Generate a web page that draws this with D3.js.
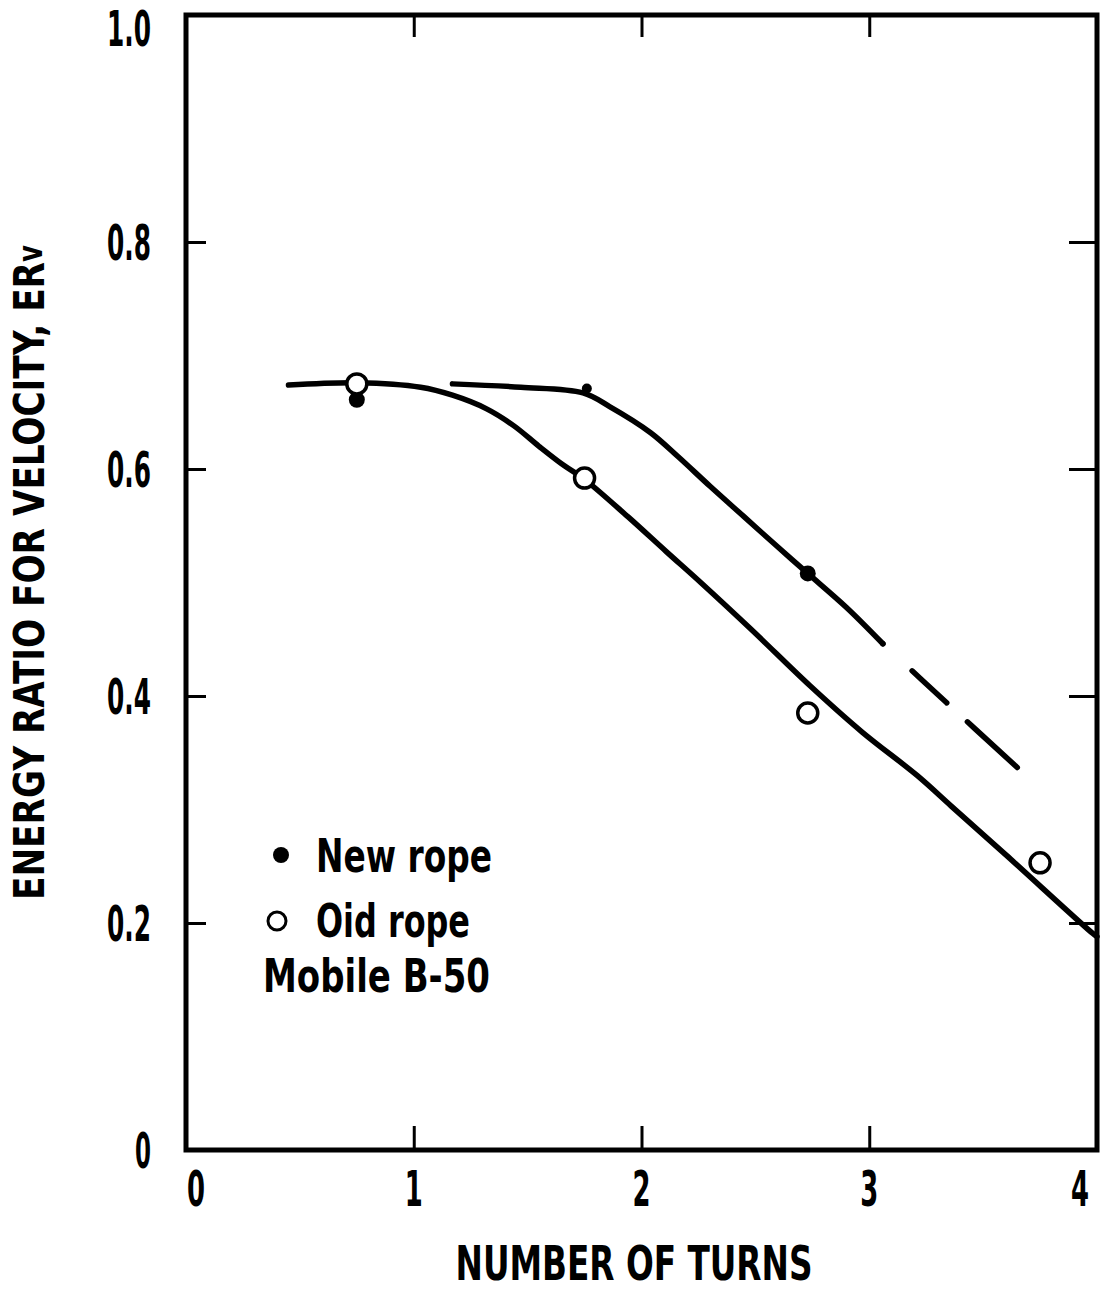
<!DOCTYPE html>
<html><head><meta charset="utf-8">
<script src="https://cdn.jsdelivr.net/npm/d3@7"></script>
<style>body{margin:0;background:#fff}svg{display:block}</style>
</head><body>
<svg id="c" width="1101" height="1293"></svg>
<script>
// ---- data ----
const xTicks = [0, 1, 2, 3, 4];
const yTicks = [0, 0.2, 0.4, 0.6, 0.8, 1.0];
const yTickLabels = ["0", "0.2", "0.4", "0.6", "0.8", "1.0"];
const newRopeX = [0.75, 1.76, 2.73];
const newRopeY = [0.661, 0.671, 0.508];
const oldRopeX = [0.75, 1.75, 2.73, 3.75];
const oldRopeY = [0.675, 0.592, 0.385, 0.253];
// fitted curves
const oldCurveX = [0.45, 0.755, 1.03, 1.17, 1.32, 1.44, 1.55, 1.66, 1.743, 1.94, 2.11, 2.26, 2.48, 2.74, 2.97, 3.21, 3.36, 3.6, 3.98, 4.0];
const oldCurveY = [0.674, 0.676, 0.672, 0.665, 0.653, 0.638, 0.620, 0.603, 0.592, 0.558, 0.527, 0.500, 0.459, 0.409, 0.368, 0.330, 0.303, 0.260, 0.191, 0.188];
const newCurveX = [1.17, 1.47, 1.743, 1.86, 2.04, 2.16, 2.30, 2.45, 2.60, 2.73, 2.90, 3.06];
const newCurveY = [0.675, 0.672, 0.667, 0.655, 0.632, 0.611, 0.585, 0.558, 0.531, 0.508, 0.478, 0.446];
const newDashX = [3.06, 3.34, 3.65];
const newDashY = [0.446, 0.394, 0.337];

const svg = d3.select("#c");
const x = d3.scaleLinear().domain([0, 4]).range([186, 1097]);
const y = d3.scaleLinear().domain([0, 1]).range([1150, 15]);
const FONT = "'Liberation Sans Narrow','DejaVu Sans Condensed','Liberation Sans',sans-serif";

function txt(px, py, s, size, len, anchor, rot) {
  const t = svg.append("text")
    .attr("x", px).attr("y", py)
    .attr("font-family", FONT).attr("font-weight", "bold")
    .attr("font-size", size).attr("fill", "#000")
    .attr("text-anchor", anchor || "start")
    .text(s);
  if (len) t.attr("textLength", len).attr("lengthAdjust", "spacingAndGlyphs");
  if (rot) t.attr("transform", `rotate(${rot},${px},${py})`);
  return t;
}

// ---- frame ----
svg.append("rect").attr("x", x(0)).attr("y", y(1))
  .attr("width", x(4) - x(0)).attr("height", y(0) - y(1))
  .attr("fill", "none").attr("stroke", "#000").attr("stroke-width", 5);

// inner ticks via axes
const inner = [1, 2, 3];
const innerY = [0.2, 0.4, 0.6, 0.8];
function styleAxis(g) { g.select(".domain").remove(); g.selectAll("line").attr("stroke", "#000").attr("stroke-width", 3); g.selectAll("text").remove(); }
svg.append("g").attr("transform", `translate(0,${y(0)})`)
  .call(d3.axisBottom(x).tickValues(inner).tickSize(-24).tickFormat("")).call(styleAxis);
svg.append("g").attr("transform", `translate(0,${y(1)})`)
  .call(d3.axisTop(x).tickValues(inner).tickSize(-22).tickFormat("")).call(styleAxis);
svg.append("g").attr("transform", `translate(${x(0)},0)`)
  .call(d3.axisLeft(y).tickValues(innerY).tickSize(-20).tickFormat("")).call(styleAxis);
svg.append("g").attr("transform", `translate(${x(4)},0)`)
  .call(d3.axisRight(y).tickValues(innerY).tickSize(-28).tickFormat("")).call(styleAxis);

// tick labels
xTicks.forEach(v => txt(x(v) + (v === 0 ? 10 : v === 4 ? -17 : 0), 1206, String(v), 50, 18, "middle"));
yTicks.forEach((v, i) => {
  const s = yTickLabels[i];
  const py = Math.max(y(v), 28) + 18;
  txt(151, py, s, 50, s.length > 1 ? 44 : 16, "end");
});

// axis titles
txt(634, 1280, "NUMBER OF TURNS", 48, 357, "middle");
txt(44, 900, "ENERGY RATIO FOR VELOCITY, ER", 43, 638, "start", -90);
txt(42, 262, "v", 34, 17, "start", -90);

// ---- curves ----
const line = d3.line().x(d => x(d[0])).y(d => y(d[1])).curve(d3.curveCatmullRom.alpha(0.5));
const pts = (xs, ys) => xs.map((v, i) => [v, ys[i]]);
svg.append("path").attr("d", line(pts(oldCurveX, oldCurveY)))
  .attr("fill", "none").attr("stroke", "#000").attr("stroke-width", 5.5).attr("stroke-linecap", "round");
svg.append("path").attr("d", line(pts(newCurveX, newCurveY)))
  .attr("fill", "none").attr("stroke", "#000").attr("stroke-width", 5.5).attr("stroke-linecap", "round");
svg.append("path").attr("d", line(pts(newDashX, newDashY)))
  .attr("fill", "none").attr("stroke", "#000").attr("stroke-width", 5.5).attr("stroke-linecap", "round")
  .attr("stroke-dasharray", "0 40 47 28 68 400");

// ---- points ----
svg.selectAll(".np").data(pts(newRopeX, newRopeY)).enter().append("circle")
  .attr("cx", d => x(d[0])).attr("cy", d => y(d[1])).attr("r", (d, i) => i === 1 ? 5 : 8).attr("fill", "#000");
svg.selectAll(".op").data(pts(oldRopeX, oldRopeY)).enter().append("circle")
  .attr("cx", d => x(d[0])).attr("cy", d => y(d[1])).attr("r", 10)
  .attr("fill", "#fff").attr("stroke", "#000").attr("stroke-width", 3.5);

// ---- legend ----
svg.append("circle").attr("cx", 281).attr("cy", 855).attr("r", 8).attr("fill", "#000");
txt(316, 872, "New rope", 46, 176, "start");
svg.append("circle").attr("cx", 277).attr("cy", 921).attr("r", 9)
  .attr("fill", "#fff").attr("stroke", "#000").attr("stroke-width", 3);
txt(316, 937, "Oid rope", 46, 154, "start");
txt(263, 992, "Mobile B-50", 46, 227, "start");
</script>
</body></html>
